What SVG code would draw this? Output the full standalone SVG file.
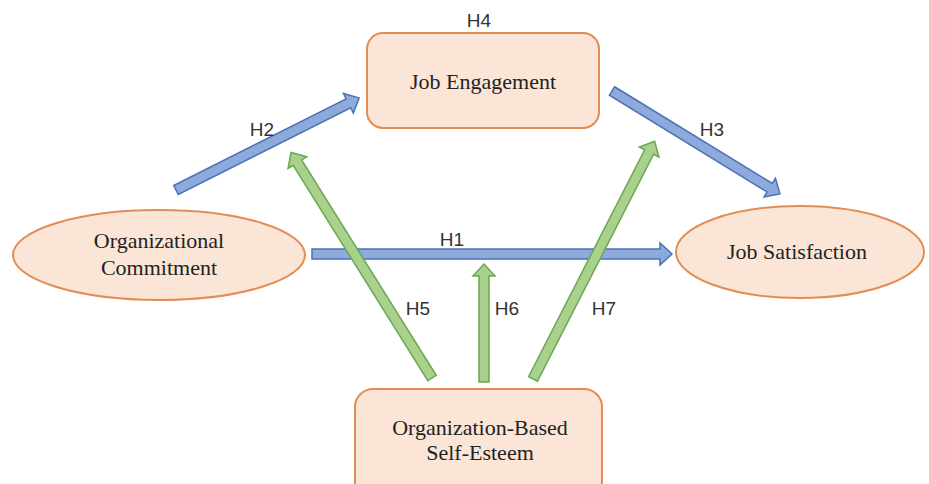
<svg xmlns="http://www.w3.org/2000/svg" width="929" height="484" viewBox="0 0 929 484">
<style>
.node{fill:#fbe5d6;stroke:#e38d55;stroke-width:2}
.nt{font-family:"Liberation Serif",serif;font-size:22px;fill:#222;text-anchor:middle}
.lbl{font-family:"Liberation Sans",sans-serif;font-size:19px;fill:#333;text-anchor:middle}
.blue{fill:#8eaadb;stroke:#4a72b8;stroke-width:1.5}
.green{fill:#a9d18e;stroke:#6aa84f;stroke-width:1.5}
</style>
<rect width="929" height="484" fill="#fff"/>
<g id="connectors">
<polygon class="blue" transform="translate(312,254)" points="0,-5 348,-5 348,-11 360,0 348,11 348,5 0,5"/>
<polygon class="blue" transform="translate(176,190) rotate(-26.7)" points="0,-5 193,-5 193,-11 205,0 193,11 193,5 0,5"/>
<polygon class="blue" transform="translate(612,91) rotate(31.5)" points="0,-5 185,-5 185,-11 197,0 185,11 185,5 0,5"/>
<polygon class="green" transform="translate(432,378) rotate(-122)" points="0,-5 254,-5 254,-11 266,0 254,11 254,5 0,5"/>
<polygon class="green" transform="translate(484,382) rotate(-90)" points="0,-5 106,-5 106,-11 118,0 106,11 106,5 0,5"/>
<polygon class="green" transform="translate(533,379) rotate(-62.9)" points="0,-5 255,-5 255,-11 267,0 255,11 255,5 0,5"/>
<text class="lbl" x="452" y="246">H1</text>
<text class="lbl" x="262" y="136">H2</text>
<text class="lbl" x="712" y="136">H3</text>
<text class="lbl" x="418" y="315">H5</text>
<text class="lbl" x="507" y="315">H6</text>
<text class="lbl" x="604" y="315">H7</text>
</g>
<g id="job-engagement">
<rect class="node" x="367" y="33" width="232" height="95" rx="16"/>
<text class="nt" x="483" y="89">Job Engagement</text>
<text class="lbl" x="479" y="27">H4</text>
</g>
<g id="org-commitment">
<ellipse class="node" cx="159" cy="255" rx="146" ry="45"/>
<text class="nt" x="159" y="248">Organizational</text>
<text class="nt" x="159" y="275">Commitment</text>
</g>
<g id="job-satisfaction">
<ellipse class="node" cx="800" cy="252" rx="124" ry="46"/>
<text class="nt" x="797" y="259">Job Satisfaction</text>
</g>
<g id="obse">
<rect class="node" x="355" y="389" width="247" height="110" rx="18"/>
<text class="nt" x="480" y="435">Organization-Based</text>
<text class="nt" x="480" y="460">Self-Esteem</text>
</g>
</svg>
